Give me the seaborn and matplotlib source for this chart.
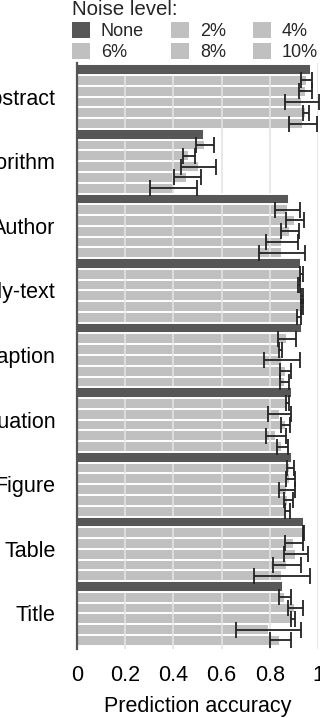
import pandas as pd
import numpy as np
import matplotlib
matplotlib.use('Agg')
import matplotlib.pyplot as plt
import seaborn as sns

# Data
categories = ['Abstract', 'Algorithm', 'Author', 'Body-text', 'Caption',
              'Equation', 'Figure', 'Table', 'Title']
noise_levels = ['None', '2%', '4%', '6%', '8%', '10%']

acc_none = [0.971, 0.527, 0.880, 0.929, 0.934, 0.891, 0.891, 0.942, 0.853]
acc_2 = [0.953, 0.530, 0.874, 0.932, 0.870, 0.874, 0.885, 0.940, 0.863]
acc_4 = [0.949, 0.465, 0.905, 0.921, 0.846, 0.841, 0.885, 0.899, 0.905]
acc_6 = [0.934, 0.505, 0.885, 0.934, 0.851, 0.866, 0.870, 0.907, 0.896]
acc_8 = [0.950, 0.458, 0.849, 0.934, 0.866, 0.826, 0.876, 0.872, 0.795]
acc_10 = [0.938, 0.401, 0.852, 0.921, 0.862, 0.851, 0.872, 0.851, 0.844]

err_2 = [0.024, 0.037, 0.052, 0.006, 0.037, 0.007, 0.014, 0.003, 0.026]
err_4 = [0.026, 0.025, 0.036, 0.003, 0.006, 0.048, 0.019, 0.037, 0.031]
err_6 = [0.072, 0.072, 0.038, 0.005, 0.073, 0.019, 0.033, 0.050, 0.007]
err_8 = [0.012, 0.055, 0.066, 0.005, 0.023, 0.040, 0.019, 0.057, 0.136]
err_10 = [0.059, 0.097, 0.096, 0.008, 0.018, 0.023, 0.010, 0.115, 0.045]

acc_all = [acc_none, acc_2, acc_4, acc_6, acc_8, acc_10]
err_all = [None, err_2, err_4, err_6, err_8, err_10]

rows = []
for lvl, vals in zip(noise_levels, acc_all):
    for cat, v in zip(categories, vals):
        rows.append({'Category': cat, 'Noise': lvl, 'Accuracy': v})
df = pd.DataFrame(rows)

sns.set_theme(style='white')
plt.rcParams['font.family'] = ['Liberation Sans', 'DejaVu Sans']

dark = '#575757'
light = '#c0c0c0'
palette = [dark] + [light] * 5

fig = plt.figure(figsize=(3.2, 7.18), dpi=100)
ax = fig.add_axes([77 / 320, 1 - 649 / 718, 241 / 320, (649 - 63) / 718])

sns.barplot(data=df, y='Category', x='Accuracy', hue='Noise', order=categories,
            hue_order=noise_levels, palette=palette, width=1, errorbar=None,
            edgecolor='white', linewidth=1.4, ax=ax)

# grid sits over the light bars but under the dark ones
ax.set_axisbelow('line')
ax.grid(axis='x', color='#e4e4e4', linewidth=1.2)
ax.grid(axis='y', visible=False)

bar_conts = list(ax.containers)
for i, cont in enumerate(bar_conts):
    if i == 0:
        for p in cont.patches:
            p.set_zorder(2)
        continue
    ys = [p.get_y() + p.get_height() / 2 for p in cont.patches]
    ax.errorbar(acc_all[i], ys, xerr=err_all[i], fmt='none', ecolor='#222222',
                elinewidth=1.3, capsize=5.5, capthick=1.3, zorder=3, clip_on=False)

ax.set_xlim(0, 1)
ax.set_ylim(8.55, -0.52)
ax.set_xticks([0, 0.2, 0.4, 0.6, 0.8, 1])
ax.set_xticklabels(['0', '0.2', '0.4', '0.6', '0.8', '1'])
ax.tick_params(axis='x', length=0, pad=11.5, labelsize=15.5, labelcolor='black')
ax.tick_params(axis='y', length=0, pad=15.5, labelsize=15.5, labelcolor='black')
ax.set_ylabel('')
ax.set_xlabel('Prediction accuracy', fontsize=15.5, labelpad=7, color='black')

for s in ['top', 'right', 'bottom']:
    ax.spines[s].set_visible(False)
ax.spines['left'].set_color('#555555')
ax.spines['left'].set_linewidth(1.6)

# legend filled row by row: None 2% 4% / 6% 8% 10%
handles, labels = ax.get_legend_handles_labels()
ax.get_legend().remove()
order = [0, 3, 1, 4, 2, 5]
leg = fig.legend([handles[k] for k in order], [labels[k] for k in order],
                 loc='upper left', bbox_to_anchor=(72 / 320, 1.0),
                 ncol=3, frameon=False, fontsize=13, title='Noise level:',
                 title_fontsize=14.8, alignment='left', handlelength=1.0,
                 handleheight=1.0, handletextpad=0.6, columnspacing=1.5,
                 labelspacing=0.15, borderpad=0, borderaxespad=0)
for h in leg.legend_handles:
    h.set_edgecolor('none')

fig.savefig('out.png', dpi=100)
